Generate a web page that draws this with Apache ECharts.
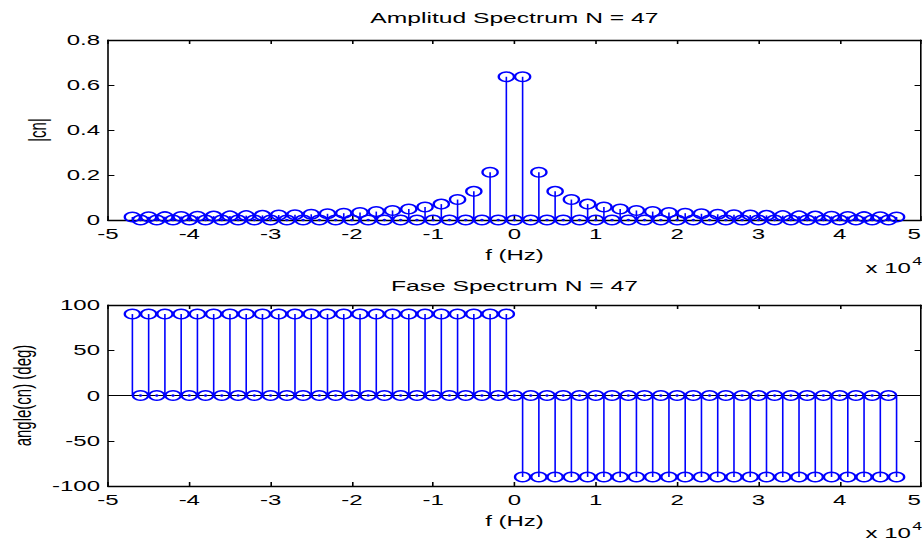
<!DOCTYPE html>
<html>
<head>
<meta charset="utf-8">
<script src="https://cdn.jsdelivr.net/npm/echarts@6/dist/echarts.min.js"></script>
<style>
html,body{margin:0;padding:0;background:#fff;overflow:hidden}
#wrap{width:924px;height:542px;overflow:hidden;position:relative;background:#fff}
#c{width:578px;height:542px;transform:scaleX(1.6);transform-origin:0 0}
</style>
</head>
<body>
<div id="wrap"><div id="c"></div></div>
<script>
// frequency in units of 10^4 Hz
const freq = [-4.7,-4.6,-4.5,-4.4,-4.3,-4.2,-4.1,-4.0,-3.9,-3.8,-3.7,-3.6,-3.5,-3.4,-3.3,-3.2,-3.1,-3.0,-2.9,-2.8,-2.7,-2.6,-2.5,-2.4,-2.3,-2.2,-2.1,-2.0,-1.9,-1.8,-1.7,-1.6,-1.5,-1.4,-1.3,-1.2,-1.1,-1.0,-0.9,-0.8,-0.7,-0.6,-0.5,-0.4,-0.3,-0.2,-0.1,0,
  0.1,0.2,0.3,0.4,0.5,0.6,0.7,0.8,0.9,1.0,1.1,1.2,1.3,1.4,1.5,1.6,1.7,1.8,1.9,2.0,2.1,2.2,2.3,2.4,2.5,2.6,2.7,2.8,2.9,3.0,3.1,3.2,3.3,3.4,3.5,3.6,3.7,3.8,3.9,4.0,4.1,4.2,4.3,4.4,4.5,4.6,4.7];
const amplitude = [0.0135,0,0.0141,0,0.0148,0,0.0155,0,0.0163,0,0.0172,0,0.0182,0,0.0193,0,0.0205,0,0.0220,0,0.0236,0,0.0255,0,0.0277,0,0.0303,0,0.0335,0,0.0374,0,0.0424,0,0.0490,0,0.0579,0,0.0707,0,0.0909,0,0.1273,0,0.2122,0,0.6366,
  0,
  0.6366,0,0.2122,0,0.1273,0,0.0909,0,0.0707,0,0.0579,0,0.0490,0,0.0424,0,0.0374,0,0.0335,0,0.0303,0,0.0277,0,0.0255,0,0.0236,0,0.0220,0,0.0205,0,0.0193,0,0.0182,0,0.0172,0,0.0163,0,0.0155,0,0.0148,0,0.0141,0,0.0135];
const phase = [90,0,90,0,90,0,90,0,90,0,90,0,90,0,90,0,90,0,90,0,90,0,90,0,90,0,90,0,90,0,90,0,90,0,90,0,90,0,90,0,90,0,90,0,90,0,90,
  0,
  -90,0,-90,0,-90,0,-90,0,-90,0,-90,0,-90,0,-90,0,-90,0,-90,0,-90,0,-90,0,-90,0,-90,0,-90,0,-90,0,-90,0,-90,0,-90,0,-90,0,-90,0,-90,0,-90,0,-90];
const titles = ['Amplitud Spectrum N = 47', 'Fase Spectrum N = 47'];
const xLabel = 'f (Hz)';
const yLabels = ['|cn|', 'angle(cn) (deg)'];
const xRange = [-5, 5];
const ampRange = [0, 0.8, 0.2];
const phaseRange = [-100, 100, 50];

const FONT = '"Liberation Sans", Arial, sans-serif';
const FS = 15;
const BLUE = '#0000ff';

const chart = echarts.init(document.getElementById('c'), null, {renderer: 'svg'});

const ampData = freq.map((f, i) => [f, amplitude[i]]);
const phaseData = freq.map((f, i) => [f, phase[i]]);

function xAxisPair(gridIndex) {
  const common = {
    type: 'value', gridIndex, min: xRange[0], max: xRange[1], interval: 1,
    splitLine: {show: false},
    axisLine: {show: true, onZero: false, lineStyle: {color: '#000', width: 1.3}},
    axisTick: {show: true, inside: true, length: 4, lineStyle: {color: '#000'}}
  };
  return [
    Object.assign({}, common, {
      position: 'bottom',
      axisLabel: {color: '#000', fontFamily: FONT, fontSize: FS, margin: 6, alignMaxLabel: 'right', formatter: v => String(v)},
      name: xLabel, nameLocation: 'middle', nameGap: 27,
      nameTextStyle: {color: '#000', fontFamily: FONT, fontSize: FS}
    }),
    Object.assign({}, common, {position: 'top', axisLabel: {show: false}})
  ];
}
function yAxisPair(gridIndex, r, name, gap) {
  const common = {
    type: 'value', gridIndex, min: r[0], max: r[1], interval: r[2],
    splitLine: {show: false},
    axisLine: {show: true, onZero: false, lineStyle: {color: '#000', width: 1}},
    axisTick: {show: true, inside: true, length: 4, lineStyle: {color: '#000'}}
  };
  return [
    Object.assign({}, common, {
      position: 'left',
      axisLabel: {color: '#000', fontFamily: FONT, fontSize: FS, margin: 5},
      name, nameLocation: 'middle', nameGap: gap,
      nameTextStyle: {color: '#000', fontFamily: FONT, fontSize: FS}
    }),
    Object.assign({}, common, {position: 'right', axisLabel: {show: false}})
  ];
}

function stems(xi, yi, data) {
  return {
    type: 'custom', xAxisIndex: xi, yAxisIndex: yi, data, z: 3, silent: true,
    renderItem(params, api) {
      const x = api.value(0), y = api.value(1);
      const p0 = api.coord([x, 0]);
      const p1 = api.coord([x, y]);
      if (y === 0) {
        return {type: 'circle', shape: {cx: p0[0], cy: p0[1], r: 1.2}, style: {fill: BLUE}};
      }
      return {type: 'line', shape: {x1: p0[0], y1: p0[1], x2: p1[0], y2: p1[1]},
        style: {stroke: BLUE, lineWidth: 1}};
    }
  };
}
function markers(xi, yi, data) {
  return {
    type: 'scatter', xAxisIndex: xi, yAxisIndex: yi, data, z: 4, silent: true,
    symbol: 'circle', symbolSize: 9.5,
    itemStyle: {color: 'rgba(0,0,0,0)', borderColor: BLUE, borderWidth: 1.5, opacity: 1}
  };
}

const gridL = 67.5, gridR = 2.4;

chart.setOption({
  animation: false,
  backgroundColor: '#fff',
  grid: [
    {left: gridL, right: gridR, top: 40, height: 180, outerBoundsMode: 'none', containLabel: false},
    {left: gridL, right: gridR, top: 305, height: 181, outerBoundsMode: 'none', containLabel: false}
  ],
  xAxis: [...xAxisPair(0), ...xAxisPair(1)],
  yAxis: [...yAxisPair(0, ampRange, yLabels[0], 35), ...yAxisPair(1, phaseRange, yLabels[1], 43)],
  series: [
    {
      type: 'line', xAxisIndex: 2, yAxisIndex: 2, data: [[xRange[0], 0], [xRange[1], 0]],
      showSymbol: false, symbol: 'none', silent: true, z: 2,
      lineStyle: {color: '#000', width: 1}
    },
    stems(0, 0, ampData),
    markers(0, 0, ampData),
    stems(2, 2, phaseData),
    markers(2, 2, phaseData)
  ],
  graphic: [
    {type: 'text', x: 321.5, y: 17, style: {text: titles[0], align: 'center', verticalAlign: 'middle', font: '15.4px ' + FONT, fill: '#000'}},
    {type: 'text', x: 321.5, y: 285, style: {text: titles[1], align: 'center', verticalAlign: 'middle', font: '15.4px ' + FONT, fill: '#000'}},
    {type: 'text', x: 541, y: 268, style: {text: 'x 10', align: 'left', verticalAlign: 'middle', font: FS + 'px ' + FONT, fill: '#000'}},
    {type: 'text', x: 570.2, y: 261, style: {text: '4', align: 'left', verticalAlign: 'middle', font: '11px ' + FONT, fill: '#000'}},
    {type: 'text', x: 541, y: 533, style: {text: 'x 10', align: 'left', verticalAlign: 'middle', font: FS + 'px ' + FONT, fill: '#000'}},
    {type: 'text', x: 570.2, y: 526, style: {text: '4', align: 'left', verticalAlign: 'middle', font: '11px ' + FONT, fill: '#000'}}
  ]
});
</script>
</body>
</html>
